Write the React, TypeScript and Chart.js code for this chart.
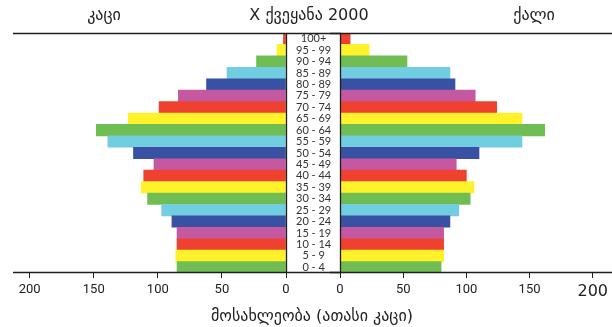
import React, { useEffect, useRef } from "react";
import { Chart, registerables } from "chart.js";

Chart.register(...registerables);

// ---- data ----
const ageGroups = [
  "100+", "95 - 99", "90 - 94", "85 - 89", "80 - 89", "75 - 79", "70 - 74",
  "65 - 69", "60 - 64", "55 - 59", "50 - 54", "45 - 49", "40 - 44", "35 - 39",
  "30 - 34", "25 - 29", "20 - 24", "15 - 19", "10 - 14", "5 - 9", "0 - 4",
];
const men = [2, 7, 23, 46, 62, 84, 99, 123, 148, 139, 119, 103, 111, 113, 108, 97, 89, 85, 85, 86, 85];
const women = [8, 23, 53, 87, 91, 107, 124, 144, 162, 144, 110, 92, 100, 106, 103, 94, 87, 82, 82, 82, 80];
const xTickValues = [0, 50, 100, 150, 200];
const leftMax = 213;
const rightMax = 215;

const titleLeft = "კაცი";
const titleCenter = "X ქვეყანა 2000";
const titleRight = "ქალი";
const axisTitle = "მოსახლეობა (ათასი კაცი)";

const RED = "#ef4130";
const YELLOW = "#fff22a";
const GREEN = "#70be53";
const CYAN = "#71cee0";
const BLUE = "#3951a3";
const PINK = "#c459a1";
const barColors = [
  RED, YELLOW, GREEN, CYAN, BLUE, PINK, RED, YELLOW, GREEN, CYAN, BLUE,
  PINK, RED, YELLOW, GREEN, CYAN, BLUE, PINK, RED, YELLOW, GREEN,
];

const INK = "#1e1e1e";

const framePlugin = {
  id: "frame",
  afterDraw(chart: any) {
    const { ctx, chartArea } = chart;
    const xs = chart.scales.x;
    const opts = chart.options.plugins.frame || {};
    const from = opts.from === "canvas" ? 0 : chartArea.left;
    const to = opts.to === "canvas" ? chart.width : chartArea.right;
    const top = Math.round(chartArea.top) + 0.5;
    const bottom = Math.round(chartArea.bottom) - 0.5;
    const zx = Math.round(xs.getPixelForValue(0)) + 0.5;
    ctx.save();
    ctx.strokeStyle = INK;
    ctx.lineWidth = 1.3;
    ctx.beginPath();
    ctx.moveTo(from, top);
    ctx.lineTo(to, top);
    ctx.moveTo(from, bottom);
    ctx.lineTo(to, bottom);
    ctx.moveTo(zx, top);
    ctx.lineTo(zx, bottom);
    ctx.stroke();
    ctx.restore();
  },
};

function xScale(max: number, reverse: boolean, bigLast: boolean) {
  return {
    type: "linear",
    position: "bottom",
    min: 0,
    max,
    reverse,
    afterBuildTicks: (s: any) => {
      s.ticks = xTickValues.map((v) => ({ value: v }));
    },
    afterFit: (s: any) => {
      s.height = 54;
    },
    grid: { drawOnChartArea: false, drawTicks: true, tickLength: 5, color: INK, lineWidth: 1 },
    border: { display: false },
    ticks: {
      maxRotation: 0,
      autoSkip: false,
      padding: 4,
      color: "#222",
      font: (c: any) =>
        bigLast && c.tick && c.tick.value === 200
          ? { family: "DejaVu Sans", size: 16 }
          : { family: "Roboto", size: 13 },
    },
  };
}

export default function App() {
  const leftRef = useRef<HTMLCanvasElement>(null);
  const rightRef = useRef<HTMLCanvasElement>(null);

  useEffect(() => {
    const left = new Chart(leftRef.current as HTMLCanvasElement, {
      type: "bar",
      data: {
        labels: ageGroups,
        datasets: [
          {
            data: men,
            backgroundColor: barColors,
            borderWidth: 0,
            barPercentage: 1,
            categoryPercentage: 1,
          },
        ],
      },
      options: {
        indexAxis: "y",
        animation: false,
        responsive: false,
        maintainAspectRatio: false,
        layout: { padding: { left: 13, top: 33, right: 0, bottom: 0 } },
        plugins: {
          legend: { display: false },
          tooltip: { enabled: false },
          frame: { from: "area", to: "canvas" },
        } as any,
        scales: {
          x: xScale(leftMax, true, false) as any,
          y: {
            type: "category",
            position: "right",
            afterFit: (s: any) => {
              s.width = 55;
            },
            grid: { display: false, drawTicks: false, tickLength: 0 },
            border: { display: false },
            ticks: {
              autoSkip: false,
              crossAlign: "center",
              padding: 10,
              color: "#333",
              font: { family: "Lato", size: 11 },
            },
          },
        },
      },
      plugins: [framePlugin],
    });

    const right = new Chart(rightRef.current as HTMLCanvasElement, {
      type: "bar",
      data: {
        labels: ageGroups,
        datasets: [
          {
            data: women,
            backgroundColor: barColors,
            borderWidth: 0,
            barPercentage: 1,
            categoryPercentage: 1,
          },
        ],
      },
      options: {
        indexAxis: "y",
        animation: false,
        responsive: false,
        maintainAspectRatio: false,
        layout: { padding: { left: 10, top: 33, right: 0, bottom: 0 } },
        plugins: {
          legend: { display: false },
          tooltip: { enabled: false },
          frame: { from: "canvas", to: "canvas" },
        } as any,
        scales: {
          x: xScale(rightMax, false, true) as any,
          y: { type: "category", display: false },
        },
      },
      plugins: [framePlugin],
    });

    return () => {
      left.destroy();
      right.destroy();
    };
  }, []);

  const textStyle = (x: number, y: number, size: number): React.CSSProperties => ({
    position: "absolute",
    left: x,
    top: y,
    transform: "translate(-50%, -50%)",
    fontFamily: "'DejaVu Sans', sans-serif",
    fontSize: size,
    color: "#222",
    whiteSpace: "nowrap",
    lineHeight: 1,
  });

  return (
    <div
      style={{
        position: "fixed",
        left: 0,
        top: 0,
        width: 612,
        height: 327,
        background: "#fff",
        overflow: "hidden",
      }}
    >
      <canvas
        ref={leftRef}
        width={341}
        height={327}
        style={{ position: "absolute", left: 0, top: 0, width: 341, height: 327 }}
      />
      <canvas
        ref={rightRef}
        width={282}
        height={327}
        style={{ position: "absolute", left: 330, top: 0, width: 282, height: 327 }}
      />
      <div style={textStyle(104, 15, 16)}>{titleLeft}</div>
      <div style={textStyle(309, 15, 16)}>{titleCenter}</div>
      <div style={textStyle(534, 15, 16)}>{titleRight}</div>
      <div style={textStyle(312, 316, 16)}>{axisTitle}</div>
    </div>
  );
}
